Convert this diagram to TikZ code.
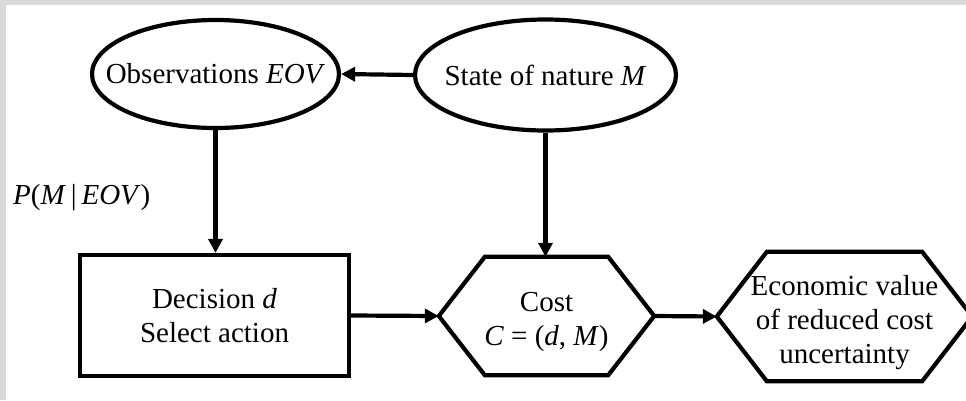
\documentclass[tikz,border=0pt]{standalone}
\usepackage{fontspec}
\setmainfont{Liberation Serif}
\usetikzlibrary{shapes.geometric,arrows.meta}
\begin{document}
\begin{tikzpicture}[x=1pt,y=-1pt,
  arr/.style={line width=4.2pt,-{Triangle[length=14pt,width=14pt]}},
  outline/.style={line width=4.2pt,line join=miter},
  lbl/.style={font=\fontsize{29}{34}\selectfont,align=center,inner sep=0pt},
  ell/.style={ellipse,draw,line width=4.2pt,lbl,inner xsep=-40pt,inner ysep=-20pt},
  boxnode/.style={rectangle,draw,line width=4.2pt,lbl}]
\fill[black!15] (0,0) rectangle (966,400);
\fill[white] (6,5) rectangle (966,400);
\useasboundingbox (0,0) rectangle (966,400);
% nodes
\node[ell,minimum width=247,minimum height=108] (obs) at (215.5,74) {\raisebox{-3pt}{Observations \textit{EOV}}};
\node[ell,minimum width=261,minimum height=111] (state) at (545.5,75) {\raisebox{-3pt}{State of nature \textit{M}}};
\node[boxnode,minimum width=269,minimum height=121] (dec) at (214.5,315.5) {Decision \textit{d}\\Select action};
\node[lbl,minimum width=215,minimum height=118] (cost) at (546.5,322) {Cost\\\textit{C} = (\textit{d}, \textit{M})};
\node[lbl,minimum width=255,minimum height=129] (econ) at (844.5,323) {Economic value\\of reduced cost\\uncertainty};
\node[lbl,anchor=west] (pm) at (13,198) {\textit{P}(\textit{M}\,|\,\textit{EOV})};
% hexagon corners (outline sits slightly above the text centre)
\coordinate (cW) at ([yshift=6pt]cost.west);
\coordinate (cE) at ([yshift=6pt]cost.east);
\coordinate (cN) at ([yshift=6pt]cost.north);
\coordinate (eW) at ([yshift=6.5pt]econ.west);
\coordinate (eE) at ([yshift=6.5pt]econ.east);
\draw[outline] (cW) -- ([xshift=46pt,yshift=6pt]cost.north west) -- ([xshift=-46pt,yshift=6pt]cost.north east)
  -- (cE) -- ([xshift=-46pt,yshift=6pt]cost.south east) -- ([xshift=46pt,yshift=6pt]cost.south west) -- cycle;
\draw[outline] (eW) -- ([xshift=50pt,yshift=6.5pt]econ.north west) -- ([xshift=-50pt,yshift=6.5pt]econ.north east)
  -- (eE) -- ([xshift=-50pt,yshift=6.5pt]econ.south east) -- ([xshift=50pt,yshift=6.5pt]econ.south west) -- cycle;
% connectors
\draw[arr] (state.west) -- (obs.east);
\draw[arr] (obs.south) -- (obs.south |- dec.north);
\draw[arr] (state.south) -- (state.south |- cN);
\draw[arr] (dec.east) -- (cW);
\draw[arr] (cE) -- (eW);
\end{tikzpicture}
\end{document}
